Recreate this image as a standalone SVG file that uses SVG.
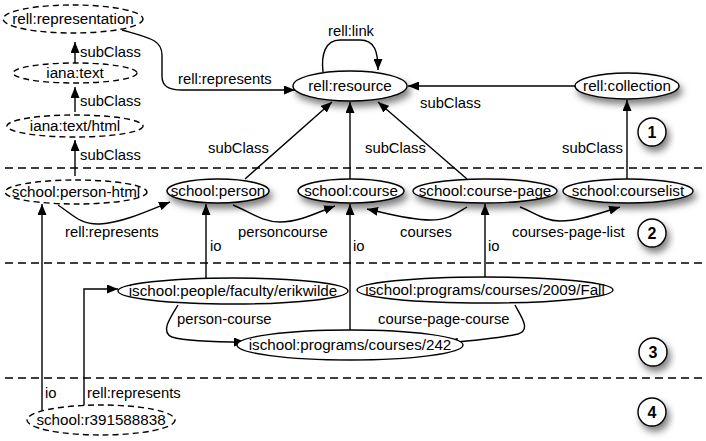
<svg xmlns="http://www.w3.org/2000/svg" width="706" height="441" viewBox="0 0 706 441">
<defs>
<marker id="arr" markerWidth="11" markerHeight="9" refX="11" refY="4.5" orient="auto" markerUnits="userSpaceOnUse"><path d="M0,0 L11,4.5 L0,9 z" fill="#000"/></marker>
<filter id="sh" x="-20%" y="-30%" width="150%" height="190%"><feDropShadow dx="3" dy="5" stdDeviation="3.5" flood-color="#000" flood-opacity="0.5"/></filter>
</defs>
<style>
text{font-family:"Liberation Sans",Arial,sans-serif;font-size:14.8px;fill:#000}
.n{text-anchor:middle;font-size:15.2px}
.solid{fill:#fff;stroke:#000;stroke-width:1.4}
.dash{fill:#fff;stroke:#000;stroke-width:1.4;stroke-dasharray:6 4}
.e{fill:none;stroke:#000;stroke-width:1.4;marker-end:url(#arr)}
.sep{stroke:#000;stroke-width:1.3;stroke-dasharray:8 5}
.num{font-weight:bold;font-size:16px;text-anchor:middle}
</style>
<rect width="706" height="441" fill="#fff"/>
<g id="separators">
<line class="sep" x1="5" y1="168" x2="702" y2="168"/>
<line class="sep" x1="5" y1="263" x2="702" y2="263"/>
<line class="sep" x1="5" y1="378" x2="702" y2="378"/>
</g>
<g id="connectors">
<path class="e" d="M75,63 L75,42"/>
<path class="e" d="M75,112 L75,87"/>
<path class="e" d="M75,176 L75,140"/>
<path class="e" d="M122,30 C150,38 162,40 162,55 L162,76 C162,86 168,90 182,90 L295,90"/>
<path class="e" d="M323,72 C321,55 325,40 340,40 L360,40 C375,40 378,52 378,70"/>
<path class="e" d="M575,86 L408,86"/>
<path class="e" d="M245,179 L332,102"/>
<path class="e" d="M350,179 L350,102"/>
<path class="e" d="M467,179 L378,102"/>
<path class="e" d="M627,179 L627,100"/>
<path class="e" d="M58,205 C72,214 80,225 100,224 C125,222 150,210 170,202"/>
<path class="e" d="M233,205 C250,212 262,222 280,222 C300,222 318,212 335,206"/>
<path class="e" d="M467,207 C455,214 448,220 430,220 C410,220 385,213 367,209"/>
<path class="e" d="M520,207 C535,213 545,221 560,221 C580,221 600,213 620,207"/>
<path class="e" d="M206,278 L206,204"/>
<path class="e" d="M350,331 L350,204"/>
<path class="e" d="M485,277 L485,204"/>
<path class="e" d="M178,305 C170,318 160,332 172,337 C185,341 210,342 245,342"/>
<path class="e" d="M515,305 C520,315 532,330 518,334 C500,338 470,341 447,343"/>
<path class="e" d="M42,411 L42,204"/>
<path class="e" d="M84,406 L84,289 L118,289"/>
</g>
<g id="edge-labels">
<text x="80" y="57">subClass</text>
<text x="80" y="106">subClass</text>
<text x="80" y="160">subClass</text>
<text x="178" y="84">rell:represents</text>
<text x="351" y="36" style="text-anchor:middle">rell:link</text>
<text x="420" y="108">subClass</text>
<text x="208" y="153">subClass</text>
<text x="365" y="153">subClass</text>
<text x="562" y="153">subClass</text>
<text x="65" y="237">rell:represents</text>
<text x="238" y="237">personcourse</text>
<text x="400" y="237">courses</text>
<text x="512" y="237">courses-page-list</text>
<text x="210" y="251">io</text>
<text x="353" y="251">io</text>
<text x="488" y="251">io</text>
<text x="177" y="324">person-course</text>
<text x="378" y="324">course-page-course</text>
<text x="45" y="398">io</text>
<text x="87" y="398">rell:represents</text>
</g>
<g id="rell-representation"><ellipse class="dash" cx="73" cy="19" rx="70" ry="14"/><text class="n" x="73" y="24">rell:representation</text></g>
<g id="iana-text"><ellipse class="dash" cx="75" cy="73" rx="62" ry="10"/><text class="n" x="75" y="78">iana:text</text></g>
<g id="iana-text-html"><ellipse class="dash" cx="75" cy="126" rx="68" ry="11"/><text class="n" x="75" y="131">iana:text/html</text></g>
<g id="school-person-html"><ellipse class="dash" cx="76" cy="192" rx="71" ry="12"/><text class="n" x="76" y="197">school:person-html</text></g>
<g id="rell-resource"><ellipse class="solid" filter="url(#sh)" cx="350" cy="86" rx="57" ry="15"/><text class="n" x="350" y="91">rell:resource</text></g>
<g id="rell-collection"><ellipse class="solid" filter="url(#sh)" cx="627" cy="86" rx="52" ry="13"/><text class="n" x="627" y="91">rell:collection</text></g>
<g id="school-person"><ellipse class="solid" filter="url(#sh)" cx="218" cy="191" rx="51" ry="12"/><text class="n" x="218" y="196">school:person</text></g>
<g id="school-course"><ellipse class="solid" filter="url(#sh)" cx="351" cy="191" rx="53" ry="12"/><text class="n" x="351" y="196">school:course</text></g>
<g id="school-course-page"><ellipse class="solid" filter="url(#sh)" cx="485" cy="191" rx="72" ry="12"/><text class="n" x="485" y="196">school:course-page</text></g>
<g id="school-courselist"><ellipse class="solid" filter="url(#sh)" cx="628" cy="191" rx="65" ry="12"/><text class="n" x="628" y="196">school:courselist</text></g>
<g id="erikwilde"><ellipse class="solid" cx="233" cy="291" rx="115" ry="13"/><text class="n" x="233" y="296">ischool:people/faculty/erikwilde</text></g>
<g id="fall2009"><ellipse class="solid" cx="485" cy="290" rx="128" ry="13"/><text class="n" x="485" y="295">ischool:programs/courses/2009/Fall</text></g>
<g id="courses242"><ellipse class="solid" cx="350" cy="345" rx="113" ry="15"/><text class="n" x="350" y="350">ischool:programs/courses/242</text></g>
<g id="school-r391588838"><ellipse class="dash" cx="101" cy="420" rx="74" ry="15"/><text class="n" x="101" y="425">school:r391588838</text></g>
<g id="num1"><circle class="solid" filter="url(#sh)" cx="652" cy="132" r="14"/><text class="num" x="652" y="138">1</text></g>
<g id="num2"><circle class="solid" filter="url(#sh)" cx="652" cy="233" r="14"/><text class="num" x="652" y="239">2</text></g>
<g id="num3"><circle class="solid" filter="url(#sh)" cx="653" cy="352" r="14"/><text class="num" x="653" y="358">3</text></g>
<g id="num4"><circle class="solid" filter="url(#sh)" cx="652" cy="412" r="14"/><text class="num" x="652" y="418">4</text></g>
</svg>
